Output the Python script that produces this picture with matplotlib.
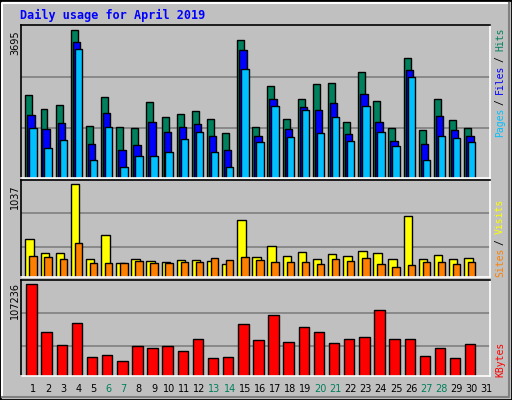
import numpy as np
import matplotlib
matplotlib.use("Agg")
import matplotlib.pyplot as plt
from matplotlib.patches import Rectangle

days = list(range(1, 31))
hits = [2066, 1714, 1814, 3695, 1285, 2016, 1260, 1235, 1890, 1512, 1588, 1663, 1462, 1109, 3427,
        1260, 2293, 1462, 1966, 2344, 2369, 1386, 2646, 1915, 1235, 2999, 1184, 1966, 1436, 1235]
files = [1562, 1210, 1361, 3377, 857, 1613, 706, 832, 1386, 1134, 1260, 1336, 1058, 706, 3200,
         1058, 1966, 1210, 1764, 1688, 1865, 1084, 2092, 1386, 932, 2696, 857, 1537, 1184, 1058]
pages = [1235, 756, 958, 3226, 454, 1260, 277, 554, 554, 655, 983, 1134, 655, 277, 2722,
         907, 1789, 1033, 1688, 1109, 1512, 932, 1789, 1134, 806, 2520, 454, 1058, 1008, 907]
sites = [417, 270, 270, 1037, 203, 462, 158, 203, 180, 169, 192, 192, 180, 147, 631,
         225, 349, 237, 282, 203, 259, 237, 293, 270, 203, 676, 203, 248, 203, 214]
visits = [237, 225, 203, 383, 158, 158, 158, 180, 158, 158, 169, 169, 214, 192, 225,
          192, 169, 169, 169, 147, 203, 180, 214, 147, 113, 135, 169, 169, 147, 169]
kbytes = [107236, 50880, 35620, 61450, 21530, 23880, 18000, 34440, 32090, 34440, 28570, 42660,
          20350, 21530, 60280, 41490, 70840, 39140, 56750, 50880, 37970, 42660, 45010, 76710,
          42660, 42660, 22700, 32090, 20350, 36790]
weekend = [6, 7, 13, 14, 20, 21, 27, 28]

BG = '#c0c0c0'
W, H = 512, 400
fig = plt.figure(figsize=(5.12, 4.0), dpi=100, facecolor=BG)
mono = 'DejaVu Sans Mono'

def px_axes(x0, y0, x1, y1):
    return fig.add_axes([x0 / W, 1 - y1 / H, (x1 - x0) / W, (y1 - y0) / H])

# outer border
fig.patches.append(Rectangle((0, 0), 1, 1, transform=fig.transFigure, fill=False,
                             edgecolor='black', linewidth=2))
fig.add_artist(plt.Line2D([2/W, 2/W, 1-3/W], [3/H, 1-3/H, 1-3/H], color='white', lw=1.5,
                          transform=fig.transFigure))
fig.add_artist(plt.Line2D([2/W, 1-3/W, 1-3/W], [3/H, 3/H, 1-3/H], color='#808080', lw=1.5,
                          transform=fig.transFigure))

x = np.array(days)

def setup(ax, ytop, frac):
    ax.set_facecolor(BG)
    ax.set_xlim(0.5, 31.5)
    ax.set_ylim(0, ytop)
    for f in frac:
        ax.axhline(ytop * f, color='#808080', lw=1.2, zorder=0)
    ax.set_xticks([]); ax.set_yticks([])
    for s in ['left', 'top']:
        ax.spines[s].set_color('black')
    for s in ['right', 'bottom']:
        ax.spines[s].set_color('white')
    for s in ax.spines.values():
        s.set_linewidth(1.2)

ax1 = px_axes(21, 25, 490, 178)
setup(ax1, 3812, [0.33, 0.66])
kw = dict(edgecolor='black', linewidth=1, align='edge')
ax1.bar(x - 0.5 + 0.29, hits, 0.46, color='#00805c', **kw)
ax1.bar(x - 0.5 + 0.42, files, 0.49, color='#0000ff', **kw)
ax1.bar(x - 0.5 + 0.55, pages, 0.49, color='#00c0ff', **kw)

ax2 = px_axes(21, 180, 490, 277)
setup(ax2, 1078, [0.31, 0.66])
ax2.bar(x - 0.5 + 0.29, sites, 0.56, color='#ffff00', **kw)
ax2.bar(x - 0.5 + 0.55, visits, 0.49, color='#ff8000', **kw)

ax3 = px_axes(21, 280, 490, 376)
setup(ax3, 111540, [0.31, 0.656])
ax3.bar(x - 0.5 + 0.35, kbytes, 0.69, color='#ff0000', **kw)

fig.text(20 / W, 1 - 15 / H, 'Daily usage for April 2019', color='#0000ff', family=mono,
         fontweight='bold', fontsize=8.5, va='center', ha='left')

# left max labels
for ytop_px, lab in [(30, '3695'), (184, '1037'), (282, '107236')]:
    fig.text(15 / W, 1 - ytop_px / H, lab, rotation=90, family='DejaVu Sans', fontsize=7,
             va='top', ha='center')

# right legends, words separated by slashes
cw = 5.35
def vlegend(bottom_px, parts):
    y = bottom_px
    for i, (txt, col) in enumerate(parts):
        if i > 0:
            y -= cw
            fig.text(500 / W, 1 - (y - cw / 2) / H, '/', rotation=90, color='black',
                     family=mono, fontsize=7, va='center', ha='center')
            y -= 2 * cw
        fig.text(500 / W, 1 - y / H, txt, rotation=90, color=col, family=mono, fontsize=7,
                 va='bottom', ha='center')
        y -= cw * len(txt)

vlegend(137, [('Pages', '#00c0ff'), ('Files', '#0000ff'), ('Hits', '#00805c')])
vlegend(277, [('Sites', '#ff8000'), ('Visits', '#ffff00')])
vlegend(377, [('KBytes', '#ff0000')])

# day labels
for d in range(1, 32):
    xc = 21 + (d - 1 + 0.79) * (469 / 31)
    fig.text(xc / W, 1 - 389 / H, str(d), color='#00805c' if d in weekend else 'black',
             family='DejaVu Sans', fontsize=7, ha='center', va='center')

fig.savefig('out.png', dpi=100, facecolor=BG)
